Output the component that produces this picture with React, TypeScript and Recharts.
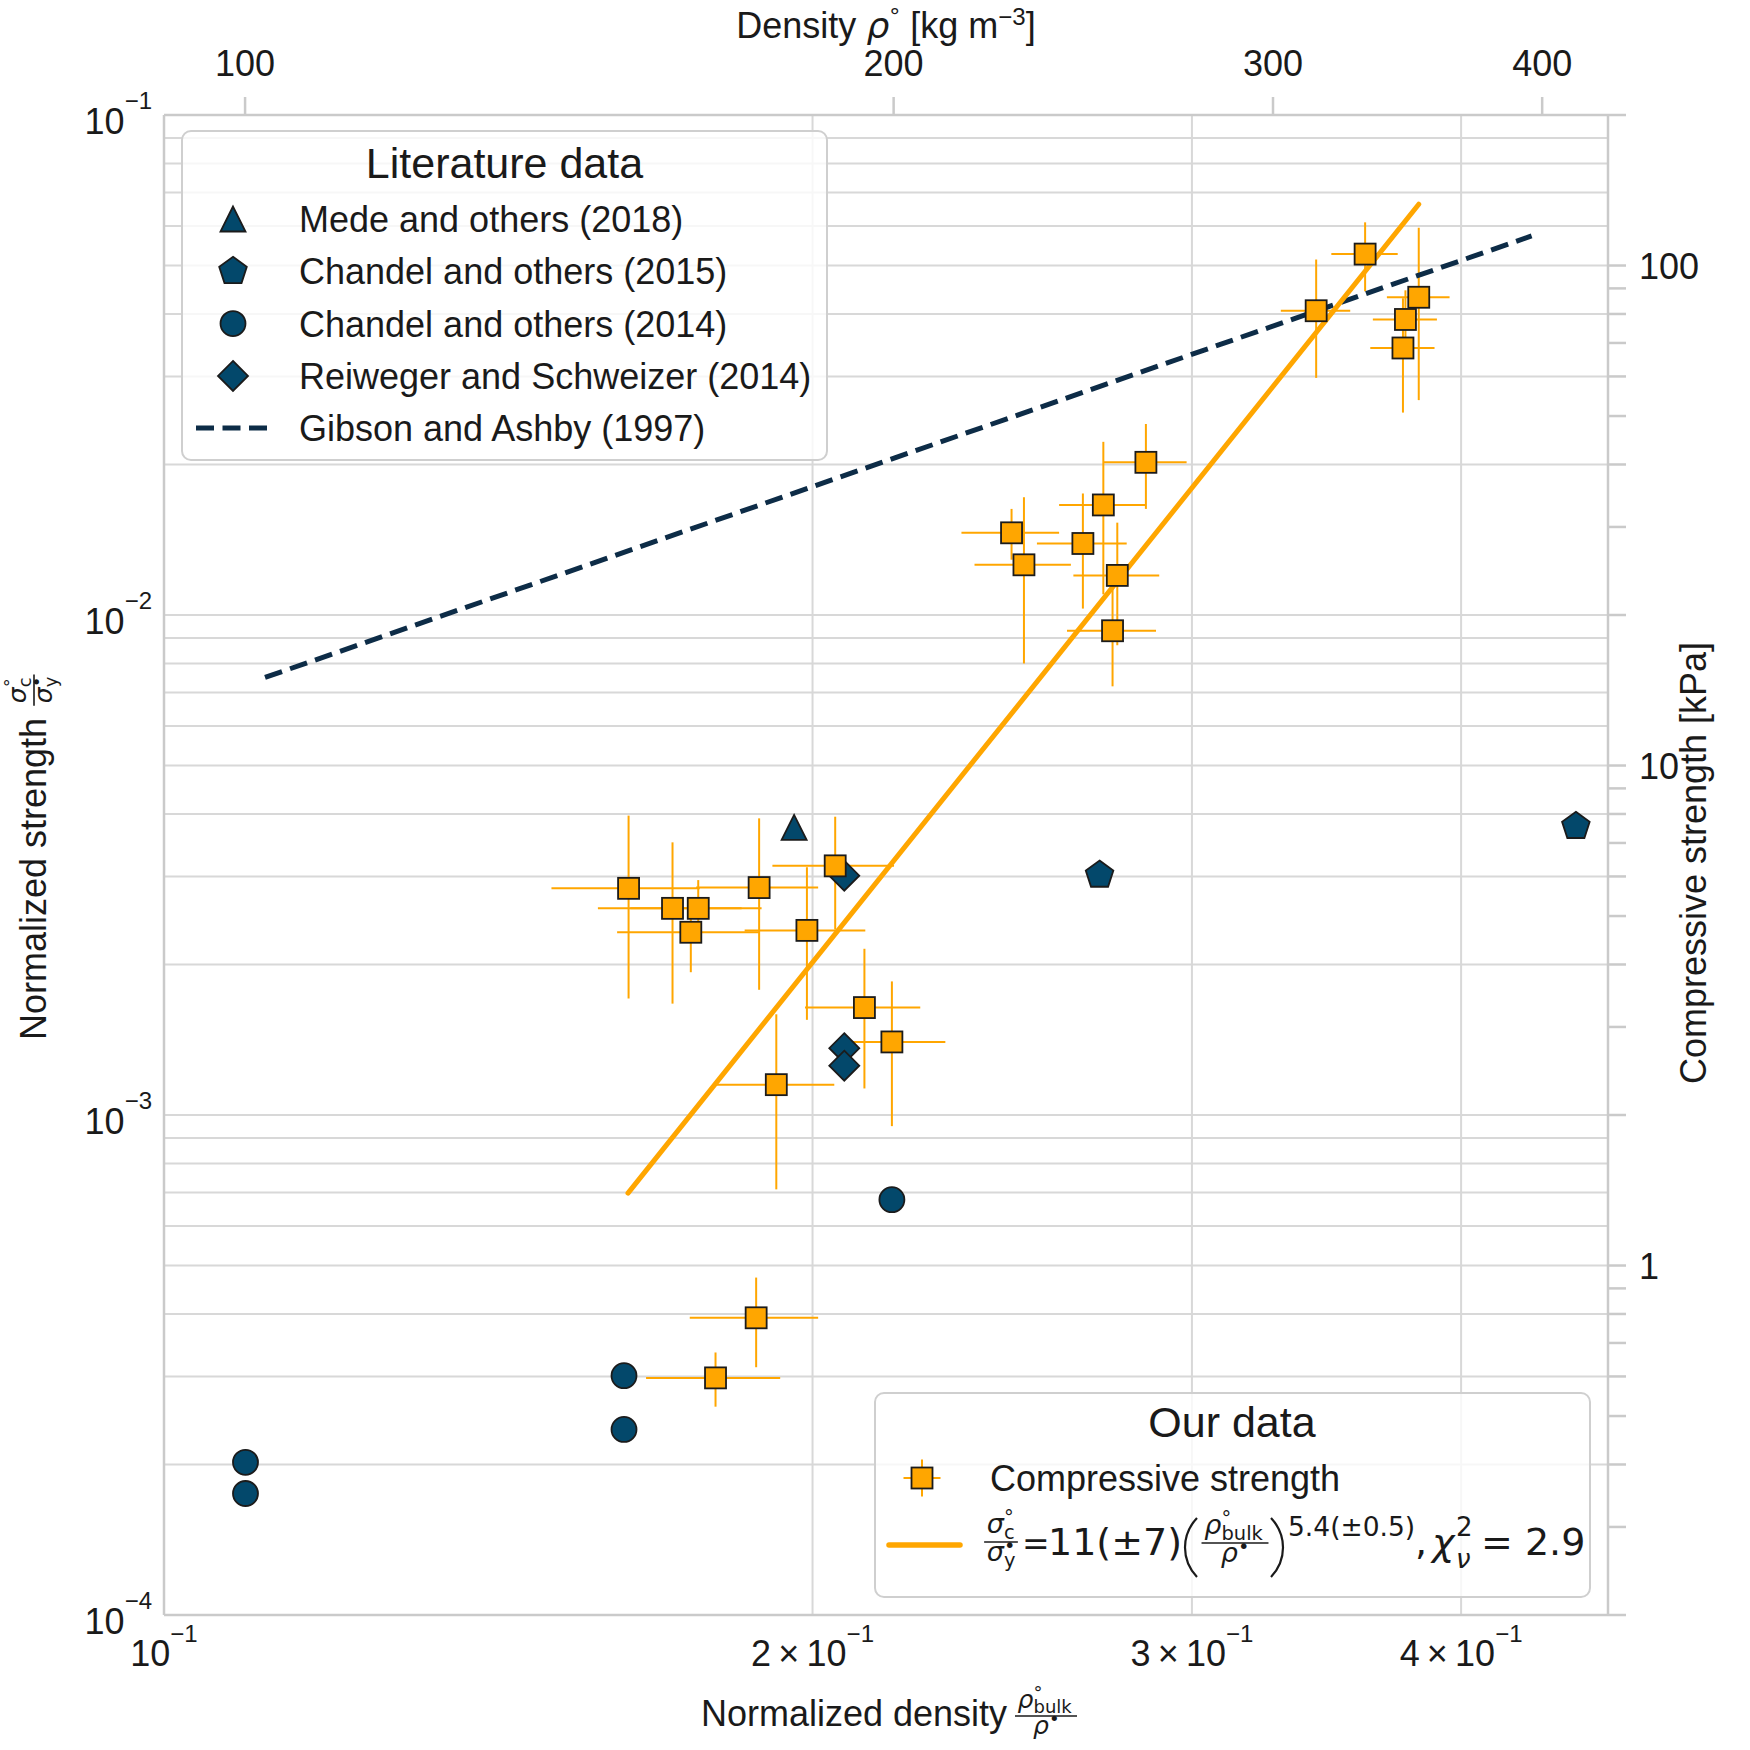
import React from "react";
import { ScatterChart, Scatter, XAxis, YAxis, CartesianGrid, ErrorBar } from "recharts";

// normalized density (rho_bulk / rho_ice) and normalized strength (sigma_c / sigma_y)
const ourDensity = [
  0.1643, 0.1722, 0.177, 0.1756, 0.1889, 0.1988, 0.2049, 0.2114, 0.2177, 0.1924, 0.1803, 0.1883,
  0.2474, 0.2507, 0.267, 0.2729, 0.277, 0.2756, 0.2856, 0.3426, 0.361, 0.3823, 0.3769, 0.3759,
];
const ourStrength = [
  0.00284, 0.00259, 0.00259, 0.00232, 0.00285, 0.00234, 0.00315, 0.00164, 0.0014, 0.00115, 0.000298, 0.000393,
  0.0146, 0.0126, 0.0139, 0.0166, 0.012, 0.0093, 0.0202, 0.0406, 0.0527, 0.0432, 0.039, 0.0342,
];
const ourDensityErr = [
  0.013, 0.0132, 0.0124, 0.0133, 0.0123, 0.0128, 0.0133, 0.013, 0.0128, 0.0123, 0.0129, 0.0129,
  0.0129, 0.0129, 0.0128, 0.0126, 0.0127, 0.0131, 0.0127, 0.0127, 0.0128, 0.0128, 0.0129, 0.0129,
];
const ourStrengthErr = [
  0.00113, 0.00092, 0.00036, 0.00039, 0.00107, 0.00079, 0.0008, 0.00051, 0.00045, 0.00044, 0.000037, 0.00008,
  0.0017, 0.0046, 0.0036, 0.0056, 0.0033, 0.0021, 0.0039, 0.0108, 0.0083, 0.0163, 0.0056, 0.0088,
];

const medeDensity = [0.1961];
const medeStrength = [0.00376];
const chandel2015Density = [0.2718, 0.4522];
const chandel2015Strength = [0.00302, 0.00378];
const chandel2014Density = [0.1091, 0.1091, 0.1635, 0.1635, 0.2177];
const chandel2014Strength = [0.000202, 0.000175, 0.000301, 0.000235, 0.000677];
const reiwegerDensity = [0.2069, 0.2069, 0.2069];
const reiwegerStrength = [0.00301, 0.00136, 0.001255];

// line end points
const gibsonDensity = [0.1114, 0.4313];
const gibsonStrength = [0.0075, 0.0573];
const fitDensity = [0.1642, 0.3823];
const fitStrength = [0.000698, 0.0663];

const bottomTicks = [0.1, 0.2, 0.3, 0.4];
const topTicks = [100, 200, 300, 400];
const leftTicks = [1e-4, 1e-3, 1e-2].flatMap((d) => [1, 2, 3, 4, 5, 6, 7, 8, 9].map((k) => k * d)).concat([1e-1]);
const rightTicks = [
  0.2, 0.3, 0.4, 0.5, 0.6, 0.7, 0.8, 0.9, 1, 2, 3, 4, 5, 6, 7, 8, 9, 10, 20, 30, 40, 50, 60, 70, 80, 90, 100, 200,
];
const rightLabels = [1, 10, 100];

const RHO_ICE = 917;
const SIGMA_Y_KPA = 2000;
const xDomain = [0.1, 0.468];
const yDomain = [1e-4, 1e-1];
const topDomain = [xDomain[0] * RHO_ICE, xDomain[1] * RHO_ICE];
const rightDomain = [yDomain[0] * SIGMA_Y_KPA, yDomain[1] * SIGMA_Y_KPA];

const PLOT_TOP = 115;

const ORANGE = "#ffa600";
const NAVY = "#03486b";
const DASH = "#0d2c47";
const EDGE = "#1b1b1b";
const GRID = "#d8d8d8";
const SPINE = "#cacaca";
const INK = "#1a1a1a";
const SANS = "'Liberation Sans', Arial, sans-serif";
const MATH = "'DejaVu Sans', sans-serif";

const toRows = (xs: number[], ys: number[]) => xs.map((x, i) => ({ x, y: ys[i] }));
const ourRows = ourDensity.map((x, i) => ({
  x,
  y: ourStrength[i],
  xe: ourDensityErr[i],
  ye: ourStrengthErr[i],
}));
// same points in kg m^-3, only so the top axis has something bound to it
const topAnchorRows = chandel2014Density.map((d, i) => ({ x: d * RHO_ICE, y: chandel2014Strength[i] }));

// markers
function SquareDot({ cx, cy }: any) {
  return <rect x={cx - 10.5} y={cy - 10.5} width={21} height={21} fill={ORANGE} stroke={EDGE} strokeWidth={1.8} />;
}
function CircleDot({ cx, cy }: any) {
  return <circle cx={cx} cy={cy} r={12.5} fill={NAVY} stroke={EDGE} strokeWidth={1.8} />;
}
function TriangleDot({ cx, cy }: any) {
  const h = 12.5;
  return <polygon points={`${cx},${cy - h} ${cx - h},${cy + h} ${cx + h},${cy + h}`} fill={NAVY} stroke={EDGE} strokeWidth={1.8} />;
}
function DiamondDot({ cx, cy }: any) {
  const h = 15;
  return <polygon points={`${cx},${cy - h} ${cx + h},${cy} ${cx},${cy + h} ${cx - h},${cy}`} fill={NAVY} stroke={EDGE} strokeWidth={1.8} />;
}
function PentagonDot({ cx, cy }: any) {
  const r = 14.5;
  const pts = [0, 1, 2, 3, 4]
    .map((k) => {
      const a = ((-90 + k * 72) * Math.PI) / 180;
      return `${cx + r * Math.cos(a)},${cy + r * Math.sin(a)}`;
    })
    .join(" ");
  return <polygon points={pts} fill={NAVY} stroke={EDGE} strokeWidth={1.8} />;
}
const NoDot = () => <g />;

// ticks
function LeftTick(p: any) {
  const e = Math.log10(p.payload.value);
  if (Math.abs(e - Math.round(e)) > 1e-6) return <g />;
  return (
    <text x={p.x - 12} y={p.y + 19} textAnchor="end" fontSize={36} fontFamily={SANS} fill={INK}>
      10<tspan dy={-25} fontSize={24}>{"\u2212" + Math.abs(Math.round(e))}</tspan>
    </text>
  );
}
function BottomTick(p: any) {
  const k = Math.round(p.payload.value * 10);
  const base = k === 1 ? "10" : `${k}\u2009\u00d7\u200910`;
  return (
    <text x={p.x} y={p.y + 51} textAnchor="middle" fontSize={36} fontFamily={SANS} fill={INK}>
      {base}
      <tspan dy={-24} fontSize={24}>{"\u22121"}</tspan>
    </text>
  );
}
function TopTick(p: any) {
  return (
    <g>
      <line x1={p.x} x2={p.x} y1={PLOT_TOP} y2={PLOT_TOP - 18} stroke={SPINE} strokeWidth={2.5} />
      <text x={p.x} y={PLOT_TOP - 39} textAnchor="middle" fontSize={36} fontFamily={SANS} fill={INK}>
        {p.payload.value}
      </text>
    </g>
  );
}
function RightTick(p: any) {
  const v = p.payload.value;
  return (
    <g>
      <line x1={p.x} x2={p.x + 18} y1={p.y} y2={p.y} stroke={SPINE} strokeWidth={2.5} />
      {rightLabels.includes(v) ? (
        <text x={p.x + 31} y={p.y + 13} fontSize={36} fontFamily={SANS} fill={INK}>
          {v}
        </text>
      ) : null}
    </g>
  );
}

// math pieces for labels and legend
const termWidth = (s: number, sup = "", sub = "") => 0.64 * s + Math.max(sup.length, sub.length) * 0.41 * s;

function Term({ x, y, s, base, sup, sub }: any) {
  const bw = 0.64 * s;
  const ss = 0.72 * s;
  return (
    <g fontFamily={MATH} fill={INK}>
      <text x={x} y={y} fontSize={s} fontStyle="italic">{base}</text>
      {sup ? <text x={x + bw} y={y - 0.36 * s} fontSize={ss}>{sup}</text> : null}
      {sub ? <text x={x + bw} y={y + 0.2 * s} fontSize={ss}>{sub}</text> : null}
    </g>
  );
}

function Frac({ cx, bar, s, num, den }: any) {
  const wn = termWidth(s, num.sup, num.sub);
  const wd = termWidth(s, den.sup, den.sub);
  const w = Math.max(wn, wd) + 0.2 * s;
  return (
    <g>
      <Term x={cx - wn / 2} y={bar - 0.32 * s} s={s} {...num} />
      <line x1={cx - w / 2} x2={cx + w / 2} y1={bar} y2={bar} stroke={INK} strokeWidth={1.6} />
      <Term x={cx - wd / 2} y={bar + 0.72 * s} s={s} {...den} />
    </g>
  );
}

const sigmaC = { base: "\u03c3", sup: "\u00b0", sub: "c" };
const sigmaY = { base: "\u03c3", sup: "\u2022", sub: "y" };
const rhoBulk = { base: "\u03c1", sup: "\u00b0", sub: "bulk" };
const rhoIce = { base: "\u03c1", sup: "\u2022", sub: "" };

const literatureEntries = [
  { label: "Mede and others (2018)", Dot: TriangleDot },
  { label: "Chandel and others (2015)", Dot: PentagonDot },
  { label: "Chandel and others (2014)", Dot: CircleDot },
  { label: "Reiweger and Schweizer (2014)", Dot: DiamondDot },
];

function Overlay() {
  return (
    <svg
      width={1750}
      height={1750}
      style={{ position: "absolute", left: 0, top: 0, pointerEvents: "none" }}
      fontFamily={SANS}
      fill={INK}
    >
      {/* axis titles */}
      <text x={886} y={38} textAnchor="middle" fontSize={36}>
        Density{" "}
        <tspan fontFamily={MATH} fontStyle="italic">{"\u03c1"}</tspan>
        <tspan fontFamily={MATH} fontSize={22} dy={-14}>{"\u00b0"}</tspan>
        <tspan dy={14}>{" [kg m"}</tspan>
        <tspan fontSize={24} dy={-13}>{"\u22123"}</tspan>
        <tspan dy={13}>]</tspan>
      </text>

      <text x={701} y={1726} fontSize={36}>Normalized density</text>
      <Frac cx={1046} bar={1716} s={25} num={rhoBulk} den={rhoIce} />

      <g transform="translate(46, 1040) rotate(-90)">
        <text x={0} y={0} fontSize={36}>Normalized strength</text>
        <Frac cx={350} bar={-12} s={25} num={sigmaC} den={sigmaY} />
      </g>

      <g transform="translate(1706, 863) rotate(-90)">
        <text x={0} y={0} fontSize={36} textAnchor="middle">Compressive strength [kPa]</text>
      </g>

      {/* literature legend */}
      <rect x={182} y={131} width={645} height={329} rx={9} fill="#ffffff" fillOpacity={0.8} stroke="#cfcfcf" strokeWidth={2} />
      <text x={504.5} y={178} textAnchor="middle" fontSize={43}>Literature data</text>
      {literatureEntries.map(({ label, Dot }, i) => {
        const cy = 219 + i * 52.3;
        return (
          <g key={label}>
            <Dot cx={233} cy={cy} />
            <text x={299} y={cy + 13} fontSize={36}>{label}</text>
          </g>
        );
      })}
      <line x1={196} x2={271} y1={428} y2={428} stroke={DASH} strokeWidth={5} strokeDasharray="18 8.5" />
      <text x={299} y={441} fontSize={36}>Gibson and Ashby (1997)</text>

      {/* our data legend */}
      <rect x={875} y={1393} width={715} height={204} rx={9} fill="#ffffff" fillOpacity={0.8} stroke="#cfcfcf" strokeWidth={2} />
      <text x={1232} y={1437} textAnchor="middle" fontSize={43}>Our data</text>
      <line x1={903.5} x2={940.5} y1={1478} y2={1478} stroke={ORANGE} strokeWidth={2} />
      <line x1={922} x2={922} y1={1459.5} y2={1496.5} stroke={ORANGE} strokeWidth={2} />
      <SquareDot cx={922} cy={1478} />
      <text x={990} y={1491} fontSize={36}>Compressive strength</text>

      <line x1={889} x2={960} y1={1545} y2={1545} stroke={ORANGE} strokeWidth={5.5} strokeLinecap="round" />
      <Frac cx={1001} bar={1542} s={27} num={sigmaC} den={sigmaY} />
      <g fontFamily={MATH} fontSize={38}>
        <text x={1022} y={1555} fontSize={33}>=</text>
        <text x={1048} y={1555}>11(±7)</text>
        <path d="M 1197 1518 C 1181 1535, 1181 1560, 1197 1577" fill="none" stroke={INK} strokeWidth={2.2} />
        <Frac cx={1235} bar={1543} s={27} num={rhoBulk} den={rhoIce} />
        <path d="M 1271 1518 C 1287 1535, 1287 1560, 1271 1577" fill="none" stroke={INK} strokeWidth={2.2} />
        <text x={1288} y={1536} fontSize={26.5}>5.4(±0.5)</text>
        <text x={1415} y={1555}>,</text>
        <text x={1432} y={1555} fontStyle="italic">{"\u03c7"}</text>
        <text x={1456} y={1536} fontSize={26}>2</text>
        <text x={1456} y={1568} fontSize={26} fontStyle="italic">{"\u03bd"}</text>
        <text x={1481} y={1555}>= 2.9</text>
      </g>
    </svg>
  );
}

export default function App() {
  const spine = { stroke: SPINE, strokeWidth: 2.5 };
  return (
    <div style={{ position: "absolute", left: 0, top: 0, width: 1750, height: 1750, background: "#ffffff" }}>
      <ScatterChart width={1750} height={1750} margin={{ top: 0, right: 0, bottom: 0, left: 0 }}>
        <CartesianGrid stroke={GRID} strokeWidth={2} />
        <XAxis
          type="number"
          dataKey="x"
          scale="log"
          domain={xDomain}
          allowDataOverflow
          ticks={bottomTicks}
          interval={0}
          height={135}
          tickSize={0}
          tickMargin={0}
          tickLine={false}
          axisLine={spine}
          tick={BottomTick}
        />
        <XAxis
          xAxisId="top"
          orientation="top"
          type="number"
          dataKey="x"
          scale="log"
          domain={topDomain}
          allowDataOverflow
          ticks={topTicks}
          interval={0}
          height={115}
          tickSize={0}
          tickMargin={0}
          tickLine={false}
          axisLine={spine}
          tick={TopTick}
        />
        <YAxis
          type="number"
          dataKey="y"
          scale="log"
          domain={yDomain}
          allowDataOverflow
          ticks={leftTicks}
          interval={0}
          width={164}
          tickSize={0}
          tickMargin={0}
          tickLine={false}
          axisLine={spine}
          tick={LeftTick}
        />
        <YAxis
          yAxisId="right"
          orientation="right"
          type="number"
          scale="log"
          domain={rightDomain}
          allowDataOverflow
          ticks={rightTicks}
          interval={0}
          width={142}
          tickSize={0}
          tickMargin={0}
          tickLine={false}
          axisLine={spine}
          tick={RightTick}
        />

        <Scatter xAxisId="top" data={topAnchorRows} shape={NoDot} isAnimationActive={false} />

        <Scatter
          data={toRows(gibsonDensity, gibsonStrength)}
          line={{ stroke: DASH, strokeWidth: 5, strokeDasharray: "18 8.5" }}
          shape={NoDot}
          isAnimationActive={false}
        />
        <Scatter
          data={toRows(fitDensity, fitStrength)}
          line={{ stroke: ORANGE, strokeWidth: 5, strokeLinecap: "round" }}
          shape={NoDot}
          isAnimationActive={false}
        />

        <Scatter data={toRows(chandel2014Density, chandel2014Strength)} shape={CircleDot} isAnimationActive={false} />
        <Scatter data={toRows(chandel2015Density, chandel2015Strength)} shape={PentagonDot} isAnimationActive={false} />
        <Scatter data={toRows(medeDensity, medeStrength)} shape={TriangleDot} isAnimationActive={false} />
        <Scatter data={toRows(reiwegerDensity, reiwegerStrength)} shape={DiamondDot} isAnimationActive={false} />

        <Scatter data={ourRows} shape={SquareDot} isAnimationActive={false}>
          <ErrorBar dataKey="xe" direction="x" width={0} stroke={ORANGE} strokeWidth={2} isAnimationActive={false} />
          <ErrorBar dataKey="ye" direction="y" width={0} stroke={ORANGE} strokeWidth={2} isAnimationActive={false} />
        </Scatter>
      </ScatterChart>
      <Overlay />
    </div>
  );
}
